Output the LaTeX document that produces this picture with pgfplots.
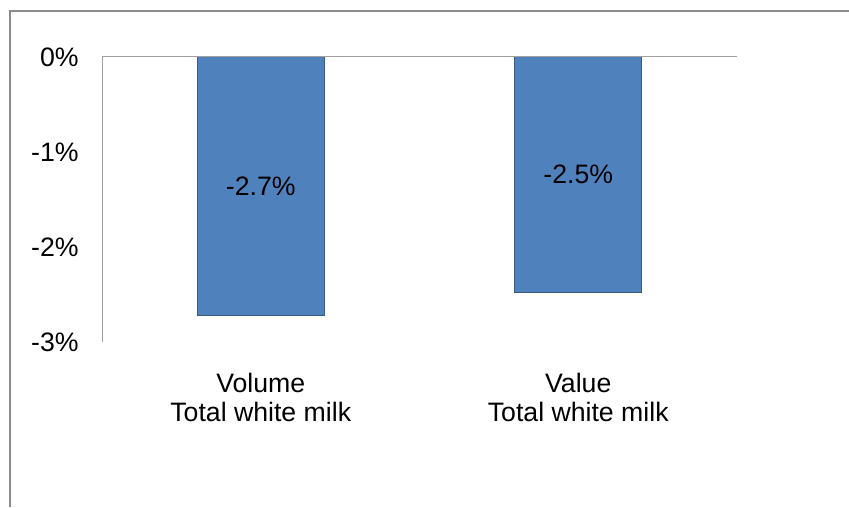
\documentclass[border=0pt]{standalone}
\usepackage{fontspec}
\setmainfont{Liberation Sans}
\usepackage{pgfplots}
\pgfplotsset{compat=1.18}
\definecolor{barblue}{HTML}{4F81BD}
\definecolor{baredge}{HTML}{3A5A80}
\definecolor{framegray}{HTML}{8C8C8C}
\definecolor{axisgray}{HTML}{A0A0A0}
\begin{document}
\begin{tikzpicture}
\path[use as bounding box] (0pt,0pt) rectangle (636.75pt,380.25pt);
\draw[framegray, line width=1.5pt] (7.5pt,0pt) -- (7.5pt,372pt) -- (640pt,372pt);
\begin{axis}[
  at={(76.5pt,123.75pt)}, anchor=south west,
  scale only axis, width=476.25pt, height=213.75pt,
  xmin=-0.5, xmax=1.5, ymin=-3, ymax=0,
  axis line style={draw=none},
  xtick={0,1}, xticklabels={{Volume\\Total white milk},{Value\\Total white milk}},
  xticklabel style={align=center, font=\fontsize{20}{21.5}\selectfont, yshift=-20pt},
  ytick={-3,-2,-1,0}, yticklabels={-3\%,-2\%,-1\%,0\%},
  yticklabel style={font=\fontsize{20}{24}\selectfont, xshift=-14pt},
  major tick length=0pt,
  clip=false,
]
\addplot[ybar, bar width=95.25pt, fill=barblue, draw=baredge, line width=0.75pt]
  coordinates {(0,-2.72) (1,-2.48)};
\addplot[draw=none, mark=none, nodes near coords, point meta=explicit symbolic,
  every node near coord/.append style={anchor=center, font=\fontsize{20}{24}\selectfont}]
  coordinates {(0,-1.36) [-2.7\%] (1,-1.24) [-2.5\%]};
\draw[axisgray, line width=0.75pt] (axis cs:-0.5,-3) -- (axis cs:-0.5,0) -- (axis cs:1.5,0);
\end{axis}
\end{tikzpicture}
\end{document}
